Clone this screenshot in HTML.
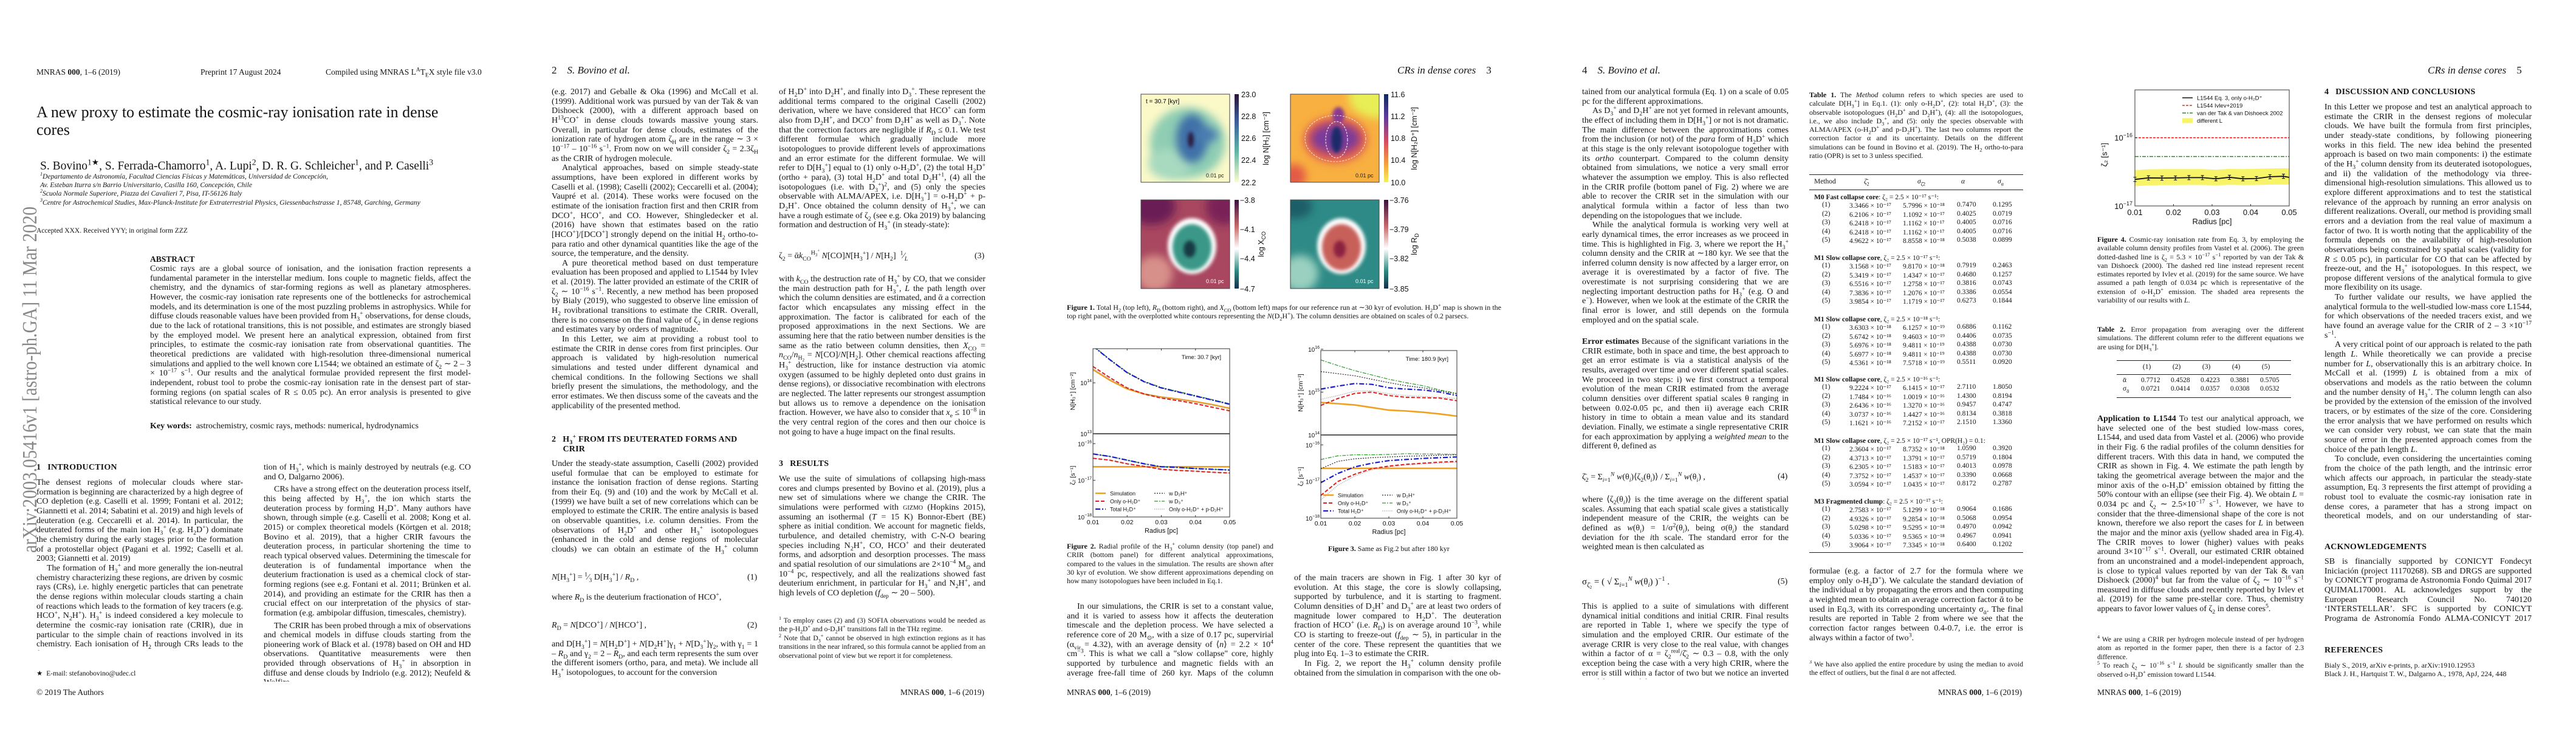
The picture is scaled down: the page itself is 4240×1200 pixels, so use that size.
<!DOCTYPE html>
<html lang="en"><head><meta charset="utf-8"><title>CRs in dense cores</title>
<style>
html,body{margin:0;padding:0;background:#fff;}
body{width:4240px;height:1200px;position:relative;overflow:hidden;font-family:"Liberation Serif",serif;color:#141414;}
.a{position:absolute;}
.t{position:absolute;font-size:14px;line-height:15.65px;text-align:justify;overflow:hidden;hyphens:auto;}
.t p{margin:0;text-indent:17px;}
.t p.ni{text-indent:0;}
.cap{position:absolute;font-size:12px;line-height:14.3px;text-align:justify;overflow:hidden;}
.fn{position:absolute;font-size:11.6px;line-height:14.4px;text-align:justify;overflow:hidden;}
sub,sup{font-size:70%;line-height:0;}
.hd{position:absolute;font-size:13.5px;white-space:nowrap;}
.rh{position:absolute;font-size:17px;font-style:italic;white-space:nowrap;}
.sec{position:absolute;font-size:14px;font-weight:bold;white-space:nowrap;letter-spacing:0.2px;}
.eq{position:absolute;font-size:14px;white-space:nowrap;}
.row{position:absolute;font-size:11.5px;white-space:nowrap;height:14px;}
.row span{position:absolute;top:0;}
</style></head><body>

<!-- ================= PAGE 1 ================= -->
<div class="hd" style="left:60px;top:111px">MNRAS <b>000</b>, 1–6 (2019)</div>
<div class="hd" style="left:330px;top:111px">Preprint 17 August 2024</div>
<div class="hd" style="left:536px;top:111px">Compiled using MNRAS L<sup>A</sup>T<sub>E</sub>X style file v3.0</div>
<div class="a" style="left:60px;top:170px;font-size:26px;line-height:29px;width:720px">A new proxy to estimate the cosmic-ray ionisation rate in dense cores</div>
<div class="a" style="left:66px;top:263px;font-size:19.5px;white-space:nowrap">S. Bovino<sup>1★</sup>, S. Ferrada-Chamorro<sup>1</sup>, A. Lupi<sup>2</sup>, D. R. G. Schleicher<sup>1</sup>, and P. Caselli<sup>3</sup></div>
<div class="a" style="left:66px;top:284px;font-size:11.5px;line-height:14.2px;font-style:italic;white-space:nowrap"><sup>1</sup>Departamento de Astronomía, Facultad Ciencias Físicas y Matemáticas, Universidad de Concepción,<br>Av. Esteban Iturra s/n Barrio Universitario, Casilla 160, Concepción, Chile<br><sup>2</sup>Scuola Normale Superiore, Piazza dei Cavalieri 7, Pisa, IT-56126 Italy<br><sup>3</sup>Centre for Astrochemical Studies, Max-Planck-Institute for Extraterrestrial Physics, Giessenbachstrasse 1, 85748, Garching, Germany</div>
<div class="a" style="left:60px;top:374px;font-size:11.5px">Accepted XXX. Received YYY; in original form ZZZ</div>
<svg class="a" style="left:10px;top:330px" width="60" height="600"><text transform="translate(50,580) rotate(-90)" font-family="Liberation Serif" font-size="34" fill="#888" textLength="570" lengthAdjust="spacingAndGlyphs">arXiv:2003.05416v1  [astro-ph.GA]  11 Mar 2020</text></svg>
<div class="a" style="left:247px;top:419px;font-size:13.5px;font-weight:bold">ABSTRACT</div>
<div class="t" style="left:247px;top:435px;width:528px;height:251px"><p class="ni">Cosmic rays are a global source of ionisation, and the ionisation fraction represents a fundamental parameter in the interstellar medium. Ions couple to magnetic fields, affect the chemistry, and the dynamics of star-forming regions as well as planetary atmospheres. However, the cosmic-ray ionisation rate represents one of the bottlenecks for astrochemical models, and its determination is one of the most puzzling problems in astrophysics. While for diffuse clouds reasonable values have been provided from H<sub>3</sub><sup>+</sup> observations, for dense clouds, due to the lack of rotational transitions, this is not possible, and estimates are strongly biased by the employed model. We present here an analytical expression, obtained from first principles, to estimate the cosmic-ray ionisation rate from observational quantities. The theoretical predictions are validated with high-resolution three-dimensional numerical simulations and applied to the well known core L1544; we obtained an estimate of ζ<sub>2</sub> ∼ 2 – 3 × 10<sup>−17</sup> s<sup>−1</sup>. Our results and the analytical formulae provided represent the first model-independent, robust tool to probe the cosmic-ray ionisation rate in the densest part of star-forming regions (on spatial scales of R ≤ 0.05 pc). An error analysis is presented to give statistical relevance to our study.</p></div>
<div class="a" style="left:247px;top:694px;font-size:14px;white-space:nowrap"><b>Key words:</b>&nbsp; astrochemistry, cosmic rays, methods: numerical, hydrodynamics</div>
<div class="sec" style="left:60px;top:762px">1&nbsp;&nbsp;&nbsp;INTRODUCTION</div>
<div class="t" style="left:60px;top:787px;width:340px;height:284px"><p class="ni">The densest regions of molecular clouds where star-formation is beginning are characterized by a high degree of CO depletion (e.g. Caselli et al. 1999; Fontani et al. 2012; Giannetti et al. 2014; Sabatini et al. 2019) and high levels of deuteration (e.g. Ceccarelli et al. 2014). In particular, the deuterated forms of the main ion H<sub>3</sub><sup>+</sup> (e.g. H<sub>2</sub>D<sup>+</sup>) dominate the chemistry during the early stages prior to the formation of a protostellar object (Pagani et al. 1992; Caselli et al. 2003; Giannetti et al. 2019)</p><p>The formation of H<sub>3</sub><sup>+</sup> and more generally the ion-neutral chemistry characterizing these regions, are driven by cosmic rays (CRs), i.e. highly energetic particles that can penetrate the dense regions within molecular clouds starting a chain of reactions which leads to the formation of key tracers (e.g. HCO<sup>+</sup>, N<sub>2</sub>H<sup>+</sup>). H<sub>3</sub><sup>+</sup> is indeed considered a key molecule to determine the cosmic-ray ionisation rate (CRIR), due in particular to the simple chain of reactions involved in its chemistry. Each ionisation of H<sub>2</sub> through CRs leads to the forma-</p></div>
<div class="fn" style="left:60px;top:1102px;width:340px">★ &nbsp;E-mail: stefanobovino@udec.cl</div>
<div class="hd" style="left:60px;top:1132px">© 2019 The Authors</div>
<div class="t" style="left:434px;top:762px;width:341px;height:360px"><p class="ni">tion of H<sub>3</sub><sup>+</sup>, which is mainly destroyed by neutrals (e.g. CO and O, Dalgarno 2006).</p><p style="margin-top:5px">CRs have a strong effect on the deuteration process itself, this being affected by H<sub>3</sub><sup>+</sup>, the ion which starts the deuteration process by forming H<sub>2</sub>D<sup>+</sup>. Many authors have shown, through simple (e.g. Caselli et al. 2008; Kong et al. 2015) or complex theoretical models (Körtgen et al. 2018; Bovino et al. 2019), that a higher CRIR favours the deuteration process, in particular shortening the time to reach typical observed values. Determining the timescale for deuteration is of fundamental importance when the deuterium fractionation is used as a chemical clock of star-forming regions (see e.g. Fontani et al. 2011; Brünken et al. 2014), and providing an estimate for the CRIR has then a crucial effect on our interpretation of the physics of star-formation (e.g. ambipolar diffusion, timescales, chemistry).</p><p style="margin-top:5px">The CRIR has been probed through a mix of observations and chemical models in diffuse clouds starting from the pioneering work of Black et al. (1978) based on OH and HD observations. Quantitative measurements were then provided through observations of H<sub>3</sub><sup>+</sup> in absorption in diffuse and dense clouds by Indriolo (e.g. 2012); Neufeld &amp; Wolfire</p></div>

<!-- ================= PAGE 2 ================= -->
<div class="rh" style="left:908px;top:106px"><span style="font-style:normal">2</span>&nbsp;&nbsp;&nbsp;&nbsp;S. Bovino et al.</div>
<div class="t" style="left:908px;top:144px;width:340px;height:534px"><p class="ni">(e.g. 2017) and Geballe &amp; Oka (1996) and McCall et al. (1999). Additional work was pursued by van der Tak &amp; van Dishoeck (2000), with a different approach based on H<sup>13</sup>CO<sup>+</sup> in dense clouds towards massive young stars. Overall, in particular for dense clouds, estimates of the ionization rate of hydrogen atom ζ<sub>H</sub> are in the range ∼ 3 × 10<sup>−17</sup> – 10<sup>−16</sup> s<sup>−1</sup>. From now on we will consider ζ<sub>2</sub> = 2.3ζ<sub>H</sub> as the CRIR of hydrogen molecule.</p><p>Analytical approaches, based on simple steady-state assumptions, have been explored in different works by Caselli et al. (1998); Caselli (2002); Ceccarelli et al. (2004); Vaupré et al. (2014). These works were focused on the estimate of the ionisation fraction first and then CRIR from DCO<sup>+</sup>, HCO<sup>+</sup>, and CO. However, Shingledecker et al. (2016) have shown that estimates based on the ratio [HCO<sup>+</sup>]/[DCO<sup>+</sup>] strongly depend on the initial H<sub>2</sub> ortho-to-para ratio and other dynamical quantities like the age of the source, the temperature, and the density.</p><p>A pure theoretical method based on dust temperature evaluation has been proposed and applied to L1544 by Ivlev et al. (2019). The latter provided an estimate of the CRIR of ζ<sub>2</sub> ∼ 10<sup>−16</sup> s<sup>−1</sup>. Recently, a new method has been proposed by Bialy (2019), who suggested to observe line emission of H<sub>2</sub> rovibrational transitions to estimate the CRIR. Overall, there is no consense on the final value of ζ<sub>2</sub> in dense regions and estimates vary by orders of magnitude.</p><p>In this Letter, we aim at providing a robust tool to estimate the CRIR in dense cores from first principles. Our approach is validated by high-resolution numerical simulations and tested under different dynamical and chemical conditions. In the following Sections we shall briefly present the simulations, the methodology, and the error estimates. We then discuss some of the caveats and the applicability of the presented method.</p></div>
<div class="sec" style="left:908px;top:716px;line-height:15.6px;white-space:normal;width:340px">2&nbsp;&nbsp;&nbsp;H<sub>3</sub><sup>+</sup> FROM ITS DEUTERATED FORMS AND<br>&nbsp;&nbsp;&nbsp;&nbsp;&nbsp;CRIR</div>
<div class="t" style="left:908px;top:756px;width:340px;height:158px"><p class="ni">Under the steady-state assumption, Caselli (2002) provided useful formulae that can be employed to estimate for instance the ionisation fraction of dense regions. Starting from their Eq. (9) and (10) and the work by McCall et al. (1999) we have built a set of new correlations which can be employed to estimate the CRIR. The entire analysis is based on observable quantities, i.e. column densities. From the observations of H<sub>2</sub>D<sup>+</sup> and other H<sub>3</sub><sup>+</sup> isotopologues (enhanced in the cold and dense regions of molecular clouds) we can obtain an estimate of the H<sub>3</sub><sup>+</sup> column density:</p></div>
<div class="eq" style="left:908px;top:943px"><i>N</i>[H<sub>3</sub><sup>+</sup>] = <sup>1</sup>⁄<sub>3</sub> D[H<sub>3</sub><sup>+</sup>] / <i>R</i><sub>D</sub> ,</div>
<div class="eq" style="left:1230px;top:943px">(1)</div>
<div class="eq" style="left:908px;top:976px">where <i>R</i><sub>D</sub> is the deuterium fractionation of HCO<sup>+</sup>,</div>
<div class="eq" style="left:908px;top:1022px"><i>R</i><sub>D</sub> = <i>N</i>[DCO<sup>+</sup>] / <i>N</i>[HCO<sup>+</sup>] ,</div>
<div class="eq" style="left:1230px;top:1022px">(2)</div>
<div class="t" style="left:908px;top:1053px;width:340px;height:64px"><p class="ni">and D[H<sub>3</sub><sup>+</sup>] = <i>N</i>[H<sub>2</sub>D<sup>+</sup>] + <i>N</i>[D<sub>2</sub>H<sup>+</sup>]γ<sub>1</sub> + <i>N</i>[D<sub>3</sub><sup>+</sup>]γ<sub>2</sub>, with γ<sub>1</sub> = 1 – <i>R</i><sub>D</sub> and γ<sub>2</sub> = 2 – <i>R</i><sub>D</sub>, and each term represents the sum over the different isomers (ortho, para, and meta). We include all H<sub>3</sub><sup>+</sup> isotopologues, to account for the conversion</p></div>
<div class="t" style="left:1282px;top:144px;width:340px;height:237px"><p class="ni">of H<sub>2</sub>D<sup>+</sup> into D<sub>2</sub>H<sup>+</sup>, and finally into D<sub>3</sub><sup>+</sup>. These represent the additional terms compared to the original Caselli (2002) derivation, where we have considered that HCO<sup>+</sup> can form also from D<sub>2</sub>H<sup>+</sup>, and DCO<sup>+</sup> from D<sub>2</sub>H<sup>+</sup> as well as D<sub>3</sub><sup>+</sup>. Note that the correction factors are negligible if <i>R</i><sub>D</sub> ≤ 0.1. We test different formulae which gradually include more isotopologues to provide different levels of approximations and an error estimate for the different formulae. We will refer to D[H<sub>3</sub><sup>+</sup>] equal to (1) only o-H<sub>2</sub>D<sup>+</sup>, (2) the total H<sub>2</sub>D<sup>+</sup> (ortho + para), (3) total H<sub>2</sub>D<sup>+</sup> and total D<sub>2</sub>H<sup>+1</sup>, (4) all the isotopologues (i.e. with D<sub>3</sub><sup>+</sup>)<sup>2</sup>, and (5) only the species observable with ALMA/APEX, i.e. D[H<sub>3</sub><sup>+</sup>] = o-H<sub>2</sub>D<sup>+</sup> + p-D<sub>2</sub>H<sup>+</sup>. Once obtained the column density of H<sub>3</sub><sup>+</sup>, we can have a rough estimate of ζ<sub>2</sub> (see e.g. Oka 2019) by balancing formation and destruction of H<sub>3</sub><sup>+</sup> (in steady-state):</p></div>
<div class="eq" style="left:1282px;top:414px">ζ<sub>2</sub> = ᾱ<i>k</i><sub>CO</sub><sup>H<sub>3</sub><sup>+</sup></sup> <i>N</i>[CO]<i>N</i>[H<sub>3</sub><sup>+</sup>] / <i>N</i>[H<sub>2</sub>] &nbsp;<sup>1</sup>⁄<sub><i>L</i></sub></div>
<div class="eq" style="left:1604px;top:414px">(3)</div>
<div class="t" style="left:1282px;top:452px;width:340px;height:268px"><p class="ni">with <i>k</i><sub>CO</sub> the destruction rate of H<sub>3</sub><sup>+</sup> by CO, that we consider the main destruction path for H<sub>3</sub><sup>+</sup>, <i>L</i> the path length over which the column densities are estimated, and ᾱ a correction factor which encapsulates any missing effect in the approximation. The factor is calibrated for each of the proposed approximations in the next Sections. We are assuming here that the ratio between number densities is the same as the ratio between column densities, then <i>X</i><sub>CO</sub> = <i>n</i><sub>CO</sub>/<i>n</i><sub>H<sub>2</sub></sub> = <i>N</i>[CO]/<i>N</i>[H<sub>2</sub>]. Other chemical reactions affecting H<sub>3</sub><sup>+</sup> destruction, like for instance destruction via atomic oxygen (assumed to be highly depleted onto dust grains in dense regions), or dissociative recombination with electrons are neglected. The latter represents our strongest assumption but allows us to remove a dependence on the ionisation fraction. However, we have also to consider that <i>x</i><sub>e</sub> ≤ 10<sup>−8</sup> in the very central region of the cores and then our choice is not going to have a huge impact on the final results.</p></div>
<div class="sec" style="left:1282px;top:756px">3&nbsp;&nbsp;&nbsp;RESULTS</div>
<div class="t" style="left:1282px;top:781px;width:340px;height:205px"><p class="ni">We use the suite of simulations of collapsing high-mass cores and clumps presented by Bovino et al. (2019), plus a new set of simulations where we change the CRIR. The simulations were performed with <span style="font-variant:small-caps">gizmo</span> (Hopkins 2015), assuming an isothermal (<i>T</i> = 15 K) Bonnor-Ebert (BE) sphere as initial condition. We account for magnetic fields, turbulence, and detailed chemistry, with C-N-O bearing species including N<sub>2</sub>H<sup>+</sup>, CO, HCO<sup>+</sup> and their deuterated forms, and adsorption and desorption processes. The mass and spatial resolution of our simulations are 2×10<sup>−4</sup> M<sub>⊙</sub> and 10<sup>−4</sup> pc, respectively, and all the realizations showed fast deuterium enrichment, in particular for H<sub>3</sub><sup>+</sup> and N<sub>2</sub>H<sup>+</sup>, and high levels of CO depletion (<i>f</i><sub>dep</sub> ∼ 20 – 500).</p></div>
<div class="fn" style="left:1282px;top:1015px;width:340px;height:104px"><sup>1</sup> To employ cases (2) and (3) SOFIA observations would be needed as the p-H<sub>2</sub>D<sup>+</sup> and o-D<sub>2</sub>H<sup>+</sup> transitions fall in the THz regime.<br><sup>2</sup> Note that D<sub>3</sub><sup>+</sup> cannot be observed in high extinction regions as it has transitions in the near infrared, so this formula cannot be applied from an observational point of view but we report it for completeness.</div>
<div class="hd" style="left:1482px;top:1132px">MNRAS <b>000</b>, 1–6 (2019)</div>

<!-- ================= PAGE 3 ================= -->
<div class="rh" style="left:2300px;top:106px">CRs in dense cores&nbsp;&nbsp;&nbsp;&nbsp;<span style="font-style:normal">3</span></div>
<div class="cap" style="left:1756px;top:499px;width:715px"><b>Figure 1.</b> Total H<sub>2</sub> (top left), <i>R</i><sub>D</sub> (bottom right), and <i>X</i><sub>CO</sub> (bottom left) maps for our reference run at ∼30 kyr of evolution. H<sub>2</sub>D<sup>+</sup> map is shown in the top right panel, with the overplotted white contours representing the <i>N</i>(D<sub>2</sub>H<sup>+</sup>). The column densities are obtained on scales of 0.2 parsecs.</div>
<div class="cap" style="left:1756px;top:892px;width:340px"><b>Figure 2.</b> Radial profile of the H<sub>3</sub><sup>+</sup> column density (top panel) and CRIR (bottom panel) for different analytical approximations, compared to the values in the simulation. The results are shown after 30 kyr of evolution. We show different approximations depending on how many isotopologues have been included in Eq.1.</div>
<div class="cap" style="left:2186px;top:896px;width:200px;text-align:center;white-space:nowrap"><b>Figure 3.</b> Same as Fig.2 but after 180 kyr.</div>
<div class="t" style="left:1756px;top:991px;width:340px;height:127px"><p>In our simulations, the CRIR is set to a constant value, and it is varied to assess how it affects the deuteration timescale and the depletion process. We have selected a reference core of 20 M<sub>⊙</sub>, with a size of 0.17 pc, supervirial (α<sub>vir</sub> = 4.32), with an average density of ⟨<i>n</i>⟩ = 2.2 × 10<sup>4</sup> cm<sup>−3</sup>. This is what we call a "slow collapse" core, highly supported by turbulence and magnetic fields with an average free-fall time of 260 kyr. Maps of the column densities</p></div>
<div class="t" style="left:2130px;top:944px;width:341px;height:174px"><p class="ni">of the main tracers are shown in Fig. 1 after 30 kyr of evolution. At this stage, the core is slowly collapsing, supported by turbulence, and it is starting to fragment. Column densities of D<sub>2</sub>H<sup>+</sup> and D<sub>3</sub><sup>+</sup> are at least two orders of magnitude lower compared to H<sub>2</sub>D<sup>+</sup>. The deuteration fraction of HCO<sup>+</sup> (i.e. <i>R</i><sub>D</sub>) is on average around 10<sup>−3</sup>, while CO is starting to freeze-out (<i>f</i><sub>dep</sub> ∼ 5), in particular in the center of the core. These represent the quantities that we plug into Eq. 1–3 to estimate the CRIR.</p><p>In Fig. 2, we report the H<sub>3</sub><sup>+</sup> column density profile obtained from the simulation in comparison with the one ob-</p></div>
<div class="hd" style="left:1756px;top:1132px">MNRAS <b>000</b>, 1–6 (2019)</div>

<!-- ================= PAGE 4 ================= -->
<div class="rh" style="left:2604px;top:106px"><span style="font-style:normal">4</span>&nbsp;&nbsp;&nbsp;&nbsp;S. Bovino et al.</div>
<div class="t" style="left:2604px;top:144px;width:340px;height:394px"><p class="ni">tained from our analytical formula (Eq. 1) on a scale of 0.05 pc for the different approximations.</p><p>As D<sub>3</sub><sup>+</sup> and D<sub>2</sub>H<sup>+</sup> are not yet formed in relevant amounts, the effect of including them in D[H<sub>3</sub><sup>+</sup>] or not is not dramatic. The main difference between the approximations comes from the inclusion (or not) of the <i>para</i> form of H<sub>2</sub>D<sup>+</sup> which at this stage is the only relevant isotopologue together with its <i>ortho</i> counterpart. Compared to the column density obtained from simulations, we notice a very small error whatever the assumption we employ. This is also reflected in the CRIR profile (bottom panel of Fig. 2) where we are able to recover the CRIR set in the simulation with our analytical formula within a factor of less than two depending on the istopologues that we include.</p><p>While the analytical formula is working very well at early dynamical times, the error increases as we proceed in time. This is highlighted in Fig. 3, where we report the H<sub>3</sub><sup>+</sup> column density and the CRIR at ∼180 kyr. We see that the inferred column density is now affected by a larger error, on average it is overestimated by a factor of five. The overestimate is not surprising considering that we are neglecting important destruction paths for H<sub>3</sub><sup>+</sup> (e.g. O and e<sup>−</sup>). However, when we look at the estimate of the CRIR the final error is lower, and still depends on the formula employed and on the spatial scale.</p></div>
<div class="t" style="left:2604px;top:555px;width:340px;height:190px"><p class="ni"><b>Error estimates</b> Because of the significant variations in the CRIR estimate, both in space and time, the best approach to get an error estimate is via a statistical analysis of the results, averaged over time and over different spatial scales. We proceed in two steps: i) we first construct a temporal evolution of the mean CRIR estimated from the average column densities over different spatial scales θ ranging in between 0.02-0.05 pc, and then ii) average each CRIR history in time to obtain a mean value and its standard deviation. Finally, we estimate a single representative CRIR for each approximation by applying a <i>weighted mean</i> to the different θ, defined as</p></div>
<div class="eq" style="left:2604px;top:777px">ζ̄<sub>2</sub> = Σ<sub><i>i</i>=1</sub><sup><i>N</i></sup> <i>w</i>(θ<sub><i>i</i></sub>)⟨ζ<sub>2</sub>(θ<sub><i>i</i></sub>)⟩ / Σ<sub><i>i</i>=1</sub><sup><i>N</i></sup> <i>w</i>(θ<sub><i>i</i></sub>) ,</div>
<div class="eq" style="left:2926px;top:777px">(4)</div>
<div class="t" style="left:2604px;top:815px;width:340px;height:96px"><p class="ni">where ⟨ζ<sub>2</sub>(θ<sub><i>i</i></sub>)⟩ is the time average on the different spatial scales. Assuming that each spatial scale gives a statistically independent measure of the CRIR, the weights can be defined as <i>w</i>(θ<sub><i>i</i></sub>) = 1/σ<sup>2</sup>(θ<sub><i>i</i></sub>), being σ(θ<sub><i>i</i></sub>) the standard deviation for the <i>i</i>th scale. The standard error for the weighted mean is then calculated as</p></div>
<div class="eq" style="left:2604px;top:950px;font-size:15px">σ<sub>ζ̄<sub>2</sub></sub> = ( √ Σ<sub><i>i</i>=1</sub><sup><i>N</i></sup> <i>w</i>(θ<sub><i>i</i></sub>) )<sup>−1</sup> .</div>
<div class="eq" style="left:2926px;top:950px">(5)</div>
<div class="t" style="left:2604px;top:991px;width:340px;height:127px"><p class="ni">This is applied to a suite of simulations with different dynamical initial conditions and initial CRIR. Final results are reported in Table 1, where we specify the type of simulation and the employed CRIR. Our estimate of the average CRIR is very close to the real value, with changes within a factor of α = ζ<sub>2</sub><sup>real</sup>/ζ̄<sub>2</sub> ∼ 0.3 – 0.8, with the only exception being the case with a very high CRIR, where the error is still within a factor of two but we notice an inverted trend for some of the</p></div>
<div class="cap" style="left:2978px;top:149px;width:352px"><b>Table 1.</b> The <i>Method</i> column refers to which species are used to calculate D[H<sub>3</sub><sup>+</sup>] in Eq.1. (1): only o-H<sub>2</sub>D<sup>+</sup>, (2): total H<sub>2</sub>D<sup>+</sup>, (3): the observable isotopologues (H<sub>2</sub>D<sup>+</sup> and D<sub>2</sub>H<sup>+</sup>), (4): all the isotopologues, i.e., we also include D<sub>3</sub><sup>+</sup>, and (5): only the species observable with ALMA/APEX (o-H<sub>2</sub>D<sup>+</sup> and p-D<sub>2</sub>H<sup>+</sup>). The last two columns report the correction factor α and its uncertainty. Details on the different simulations can be found in Bovino et al. (2019). The H<sub>2</sub> ortho-to-para ratio (OPR) is set to 3 unless specified.</div>
<div class="a" style="left:2978px;top:287px;width:352px;height:1px;background:#222"></div>
<div class="row" style="left:2978px;top:293px;width:352px"><span style="left:8px">Method</span><span style="left:90px"><i>ζ̄</i><sub>2</sub></span><span style="left:178px"><i>σ</i><sub>ζ̄2</sub></span><span style="left:250px"><i>α</i></span><span style="left:310px"><i>σ</i><sub>α</sub></span></div>
<div class="a" style="left:2978px;top:312px;width:352px;height:1px;background:#222"></div>
<div id="table1"></div>
<div class="a" style="left:2978px;top:909px;width:352px;height:1px;background:#222"></div>
<div class="t" style="left:2978px;top:933px;width:352px;height:127px"><p class="ni">formulae (e.g. a factor of 2.7 for the formula where we employ only o-H<sub>2</sub>D<sup>+</sup>). We calculate the standard deviation of the individual α by propagating the errors and then computing a weighted mean to obtain an average correction factor ᾱ to be used in Eq.3, with its corresponding uncertainty σ<sub>ᾱ</sub>. The final results are reported in Table 2 from where we see that the correction factor ranges between 0.4-0.7, i.e. the error is always within a factor of two<sup>3</sup>.</p></div>
<div class="fn" style="left:2978px;top:1087px;width:352px"><sup>3</sup> We have also applied the entire procedure by using the median to avoid the effect of outliers, but the final ᾱ are not affected.</div>
<div class="hd" style="left:3190px;top:1132px">MNRAS <b>000</b>, 1–6 (2019)</div>

<!-- ================= PAGE 5 ================= -->
<div class="rh" style="left:3996px;top:106px">CRs in dense cores&nbsp;&nbsp;&nbsp;&nbsp;<span style="font-style:normal">5</span></div>
<div class="cap" style="left:3452px;top:387px;width:340px"><b>Figure 4.</b> Cosmic-ray ionisation rate from Eq. 3, by employing the available column density profiles from Vastel et al. (2006). The green dotted-dashed line is ζ<sub>2</sub> = 5.3 × 10<sup>−17</sup> s<sup>−1</sup> reported by van der Tak &amp; van Dishoeck (2000). The dashed red line instead represent recent estimates reported by Ivlev et al. (2019) for the same source. We have assumed a path length of 0.034 pc which is representative of the extension of o-H<sub>2</sub>D<sup>+</sup> emission. The shaded area represents the variability of our results with <i>L</i>.</div>
<div class="cap" style="left:3452px;top:535px;width:340px"><b>Table 2.</b> Error propagation from averaging over the different simulations. The different column refer to the different equations we are using for D[H<sub>3</sub><sup>+</sup>].</div>
<div class="a" style="left:3484px;top:593px;width:287px;height:1px;background:#222"></div>
<div id="table2"></div>
<div class="a" style="left:3484px;top:616px;width:287px;height:1px;background:#222"></div>
<div class="a" style="left:3484px;top:654px;width:287px;height:1px;background:#222"></div>
<div class="t" style="left:3452px;top:682px;width:340px;height:331px"><p class="ni"><b>Application to L1544</b> To test our analytical approach, we have selected one of the best studied low-mass cores, L1544, and used data from Vastel et al. (2006) who provide in their Fig. 6 the radial profiles of the column densities for different tracers. With this data in hand, we computed the CRIR as shown in Fig. 4. We estimate the path length by taking the geometrical average between the major and the minor axis of the o-H<sub>2</sub>D<sup>+</sup> emission obtained by fitting the 50% contour with an ellipse (see their Fig. 4). We obtain <i>L</i> = 0.034 pc and ζ<sub>2</sub> ∼ 2.5×10<sup>−17</sup> s<sup>−1</sup>. However, we have to consider that the three-dimensional shape of the core is not known, therefore we also report the cases for <i>L</i> in between the major and the minor axis (yellow shaded area in Fig.4). The CRIR moves to lower (higher) values with peaks around 3×10<sup>−17</sup> s<sup>−1</sup>. Overall, our estimated CRIR obtained from an unconstrained and a model-independent approach, is close to typical values reported by van der Tak &amp; van Dishoeck (2000)<sup>4</sup> but far from the value of ζ<sub>2</sub> ∼ 10<sup>−16</sup> s<sup>−1</sup> measured in diffuse clouds and recently reported by Ivlev et al. (2019) for the same pre-stellar core. Thus, chemistry appears to favor lower values of ζ<sub>2</sub> in dense cores<sup>5</sup>.</p></div>
<div class="fn" style="left:3452px;top:1046px;width:340px;height:72px"><sup>4</sup> We are using a CRIR per hydrogen molecule instead of per hydrogen atom as reported in the former paper, then there is a factor of 2.3 difference.<br><sup>5</sup> To reach ζ<sub>2</sub> ∼ 10<sup>−16</sup> s<sup>−1</sup> <i>L</i> should be significantly smaller than the observed o-H<sub>2</sub>D<sup>+</sup> emission toward L1544.</div>
<div class="hd" style="left:3452px;top:1132px">MNRAS <b>000</b>, 1–6 (2019)</div>
<div class="sec" style="left:3826px;top:144px">4&nbsp;&nbsp;&nbsp;DISCUSSION AND CONCLUSIONS</div>
<div class="t" style="left:3826px;top:169px;width:341px;height:690px"><p class="ni">In this Letter we propose and test an analytical approach to estimate the CRIR in the densest regions of molecular clouds. We have built the formula from first principles, under steady-state conditions, by following pioneering works in this field. The new idea behind the presented approach is based on two main components: i) the estimate of the H<sub>3</sub><sup>+</sup> column density from its deuterated isotopologues, and ii) the validation of the methodology via three-dimensional high-resolution simulations. This allowed us to explore different approximations and to test the statistical relevance of the approach by running an error analysis on different realizations. Overall, our method is providing small errors and a deviation from the real value of maximum a factor of two. It is worth noting that the applicability of the formula depends on the availability of high-resolution observations being constrained by spatial scales (validity for <i>R</i> ≤ 0.05 pc), in particular for CO that can be affected by freeze-out, and the H<sub>3</sub><sup>+</sup> isotopologues. In this respect, we propose different versions of the analytical formula to give more flexibility on its usage.</p><p>To further validate our results, we have applied the analytical formula to the well-studied low-mass core L1544, for which observations of the needed tracers exist, and we have found an average value for the CRIR of 2 – 3 ×10<sup>−17</sup> s<sup>−1</sup>.</p><p>A very critical point of our approach is related to the path length <i>L</i>. While theoretically we can provide a precise number for <i>L</i>, observationally this is an arbitrary choice. In McCall et al. (1999) <i>L</i> is obtained from a mix of observations and models as the ratio between the column and the number density of H<sub>3</sub><sup>+</sup>. The column length can also be provided by the extension of the emission of the involved tracers, or by estimates of the size of the core. Considering the error analysis that we have performed on results which we can consider very robust, we can state that the main source of error in the presented approach comes from the choice of the path length <i>L</i>.</p><p>To conclude, even considering the uncertainties coming from the choice of the path length, and the intrinsic error which affects our approach, in particular the steady-state assumption, Eq. 3 represents the first attempt of providing a robust tool to evaluate the cosmic-ray ionisation rate in dense cores, a parameter that has a strong impact on theoretical models, and on our understanding of star-forming regions.</p></div>
<div class="sec" style="left:3826px;top:893px">ACKNOWLEDGEMENTS</div>
<div class="t" style="left:3826px;top:917px;width:341px;height:112px"><p class="ni">SB is financially supported by CONICYT Fondecyt Iniciación (project 11170268). SB and DRGS are supported by CONICYT programa de Astronomia Fondo Quimal 2017 QUIMAL170001. AL acknowledges support by the European Research Council No. 740120 ‘INTERSTELLAR’. SFC is supported by CONICYT Programa de Astronomía Fondo ALMA-CONICYT 2017 Project #31170002.</p></div>
<div class="sec" style="left:3826px;top:1063px">REFERENCES</div>
<div class="fn" style="left:3826px;top:1088px;width:341px;font-size:12px;white-space:nowrap">Bialy S., 2019, arXiv e-prints, p. arXiv:1910.12953<br>Black J. H., Hartquist T. W., Dalgarno A., 1978, ApJ, 224, 448</div>

<!-- ================= FIGURES (SVG) ================= -->
<svg id="figs" class="a" style="left:0;top:0" width="4240" height="1200" font-family="Liberation Sans, sans-serif">
<defs>
<filter id="bl" x="-50%" y="-50%" width="200%" height="200%"><feGaussianBlur stdDeviation="7"/></filter>
<filter id="bl2" x="-50%" y="-50%" width="200%" height="200%"><feGaussianBlur stdDeviation="3"/></filter>
<clipPath id="c1"><rect x="1878" y="155" width="146" height="145"/></clipPath>
<clipPath id="c2"><rect x="2124" y="155" width="146" height="145"/></clipPath>
<clipPath id="c3"><rect x="1878" y="329" width="146" height="146"/></clipPath>
<clipPath id="c4"><rect x="2124" y="329" width="146" height="146"/></clipPath>
<linearGradient id="g1" x1="0" y1="0" x2="0" y2="1"><stop offset="0" stop-color="#2a1535"/><stop offset="0.3" stop-color="#3b5a9a"/><stop offset="0.65" stop-color="#5fb5a5"/><stop offset="1" stop-color="#fdfbd0"/></linearGradient>
<linearGradient id="g2" x1="0" y1="0" x2="0" y2="1"><stop offset="0" stop-color="#0c2a5a"/><stop offset="0.25" stop-color="#5a3aa0"/><stop offset="0.55" stop-color="#d94e5f"/><stop offset="0.8" stop-color="#f6a33a"/><stop offset="1" stop-color="#f4f25a"/></linearGradient>
<linearGradient id="g3" x1="0" y1="0" x2="0" y2="1"><stop offset="0" stop-color="#3a1040"/><stop offset="0.3" stop-color="#c86a6a"/><stop offset="0.55" stop-color="#ffffff"/><stop offset="0.8" stop-color="#2f8a80"/><stop offset="1" stop-color="#12304a"/></linearGradient>
</defs>
<g clip-path="url(#c1)">
<rect x="1878" y="155" width="146" height="145" fill="#fbf9c8"/>
<ellipse cx="1955" cy="235" rx="62" ry="58" fill="#8fcdb4" filter="url(#bl)"/>
<ellipse cx="1925" cy="270" rx="35" ry="25" fill="#a8dac0" filter="url(#bl)"/>
<ellipse cx="1962" cy="228" rx="26" ry="40" fill="#3f6fa8" filter="url(#bl)"/>
<ellipse cx="1985" cy="222" rx="20" ry="12" fill="#4a7cb0" filter="url(#bl)"/>
<ellipse cx="1960" cy="230" rx="5" ry="13" fill="#2a1f40" filter="url(#bl2)"/>
</g>
<rect x="1878" y="155" width="146" height="145" fill="none" stroke="#444" stroke-width="1"/>
<text x="1886" y="170" font-size="10">t = 30.7 [kyr]</text>
<g clip-path="url(#c2)">
<rect x="2124" y="155" width="146" height="145" fill="#f8b040"/>
<ellipse cx="2270" cy="160" rx="50" ry="35" fill="#e8ee55" filter="url(#bl)"/>
<ellipse cx="2130" cy="290" rx="20" ry="20" fill="#e35a45" filter="url(#bl)"/>
<ellipse cx="2198" cy="230" rx="52" ry="38" fill="#df5a52" filter="url(#bl)"/>
<ellipse cx="2198" cy="228" rx="40" ry="24" fill="#7a3a9a" filter="url(#bl)"/>
<ellipse cx="2203" cy="190" rx="10" ry="14" fill="#8a3a90" filter="url(#bl2)"/>
<ellipse cx="2200" cy="230" rx="9" ry="22" fill="#1f2a6a" filter="url(#bl2)"/>
<ellipse cx="2200" cy="230" rx="18" ry="30" fill="none" stroke="#fff" stroke-width="1" stroke-dasharray="3,2"/>
<ellipse cx="2198" cy="228" rx="50" ry="38" fill="none" stroke="#fff" stroke-width="0.8" stroke-dasharray="3,2"/>
</g>
<rect x="2124" y="155" width="146" height="145" fill="none" stroke="#444" stroke-width="1"/>
<g clip-path="url(#c3)">
<rect x="1878" y="329" width="146" height="146" fill="#a8475f"/>
<ellipse cx="1895" cy="340" rx="40" ry="30" fill="#6a1d55" filter="url(#bl)"/>
<ellipse cx="2015" cy="340" rx="30" ry="30" fill="#7a2458" filter="url(#bl)"/>
<ellipse cx="1900" cy="450" rx="30" ry="30" fill="#d8908a" filter="url(#bl)"/>
<ellipse cx="1962" cy="405" rx="40" ry="46" fill="#ffffff" filter="url(#bl2)"/>
<ellipse cx="1962" cy="407" rx="32" ry="38" fill="#3a9888" filter="url(#bl2)"/>
<ellipse cx="1958" cy="410" rx="10" ry="14" fill="#153a45" filter="url(#bl2)"/>
</g>
<rect x="1878" y="329" width="146" height="146" fill="none" stroke="#444" stroke-width="1"/>
<g clip-path="url(#c4)">
<rect x="2124" y="329" width="146" height="146" fill="#2e8a86"/>
<ellipse cx="2140" cy="450" rx="30" ry="30" fill="#9ad0c0" filter="url(#bl)"/>
<ellipse cx="2130" cy="340" rx="30" ry="20" fill="#1c5d68" filter="url(#bl)"/>
<ellipse cx="2208" cy="405" rx="40" ry="46" fill="#ffffff" filter="url(#bl2)"/>
<ellipse cx="2208" cy="407" rx="32" ry="38" fill="#c8605a" filter="url(#bl2)"/>
<ellipse cx="2205" cy="410" rx="10" ry="14" fill="#8a2040" filter="url(#bl2)"/>
</g>
<rect x="2124" y="329" width="146" height="146" fill="none" stroke="#444" stroke-width="1"/>
<g font-size="9" fill="#222"><text x="1985" y="292">0.01 pc</text><text x="2231" y="292">0.01 pc</text></g>
<g font-size="9" fill="#fff"><text x="1985" y="466">0.01 pc</text><text x="2231" y="466">0.01 pc</text></g>
<rect x="2032" y="155" width="7" height="145" fill="url(#g1)"/>
<rect x="2278" y="155" width="7" height="145" fill="url(#g2)"/>
<rect x="2032" y="329" width="7" height="146" fill="url(#g3)"/>
<rect x="2278" y="329" width="7" height="146" fill="url(#g3)"/>
<g font-size="12.5" fill="#111">
<text x="2043" y="160">23.0</text><text x="2043" y="196">22.8</text><text x="2043" y="232">22.6</text><text x="2043" y="268">22.4</text><text x="2043" y="305">22.2</text>
<text x="2289" y="160">11.6</text><text x="2289" y="196">11.2</text><text x="2289" y="232">10.8</text><text x="2289" y="268">10.4</text><text x="2289" y="305">10.0</text>
<text x="2041" y="334">−3.8</text><text x="2041" y="382">−4.1</text><text x="2041" y="430">−4.4</text><text x="2041" y="480">−4.7</text>
<text x="2287" y="334">−3.76</text><text x="2287" y="382">−3.79</text><text x="2287" y="430">−3.82</text><text x="2287" y="480">−3.85</text>
<text transform="translate(2088,228) rotate(-90)" text-anchor="middle">log N[H₂] [cm⁻²]</text>
<text transform="translate(2332,228) rotate(-90)" text-anchor="middle">log N[H₂D⁺] [cm⁻²]</text>
<text transform="translate(2080,402) rotate(-90)" text-anchor="middle">log X<tspan font-size="9" dy="3">CO</tspan></text>
<text transform="translate(2332,402) rotate(-90)" text-anchor="middle">log R<tspan font-size="9" dy="3">D</tspan></text>
</g>
<g id="chartLayer"></g>
</svg>

<script>
// ---------- Chart data ----------
const radius = [0.01, 0.015, 0.02, 0.025, 0.03, 0.035, 0.04, 0.045, 0.05];
const xTicks = [0.01, 0.02, 0.03, 0.04, 0.05];
const xTickLabels = ["0.01", "0.02", "0.03", "0.04", "0.05"];
const f2TopSim   = [14.26, 14.05, 13.88, 13.78, 13.72, 13.68, 13.63, 13.57, 13.50];
const f2TopOnlyO = [14.32, 14.10, 13.90, 13.78, 13.70, 13.65, 13.59, 13.52, 13.45];
const f2TopTotal = [14.72, 14.45, 14.20, 14.02, 13.90, 13.82, 13.74, 13.66, 13.58];
const f2TopWD2H  = [14.72, 14.45, 14.20, 14.02, 13.90, 13.82, 13.74, 13.66, 13.58];
const f2TopWD3   = [14.73, 14.46, 14.21, 14.03, 13.91, 13.83, 13.75, 13.67, 13.59];
const f2TopObs   = [14.28, 14.07, 13.89, 13.79, 13.72, 13.67, 13.62, 13.56, 13.49];
const f2BotSim   = [-16.63, -16.63, -16.63, -16.63, -16.63, -16.63, -16.63, -16.63, -16.63];
const f2BotOnlyO = [-16.40, -16.45, -16.55, -16.62, -16.70, -16.73, -16.75, -16.78, -16.80];
const f2BotTotal = [-16.28, -16.35, -16.45, -16.55, -16.63, -16.65, -16.68, -16.70, -16.72];
const f2BotWD2H  = [-16.28, -16.35, -16.45, -16.55, -16.63, -16.65, -16.68, -16.70, -16.72];
const f2BotWD3   = [-16.28, -16.35, -16.45, -16.55, -16.63, -16.65, -16.68, -16.70, -16.72];
const f2BotObs   = [-16.40, -16.45, -16.55, -16.62, -16.70, -16.73, -16.75, -16.78, -16.80];
const f3TopSim   = [14.76, 14.73, 14.70, 14.64, 14.58, 14.56, 14.53, 14.49, 14.44];
const f3TopOnlyO = [14.69, 14.85, 14.97, 15.00, 14.92, 14.88, 14.87, 14.86, 14.80];
const f3TopTotal = [15.07, 15.14, 15.20, 15.18, 15.10, 15.07, 15.05, 15.00, 14.92];
const f3TopWD2H  = [15.48, 15.43, 15.38, 15.30, 15.22, 15.15, 15.10, 15.03, 14.96];
const f3TopWD3   = [15.75, 15.62, 15.50, 15.40, 15.30, 15.22, 15.15, 15.05, 14.97];
const f3TopObs   = [14.83, 14.92, 15.02, 15.03, 14.96, 14.92, 14.90, 14.88, 14.85];
const f3BotSim   = [-16.64, -16.64, -16.64, -16.64, -16.64, -16.64, -16.64, -16.64, -16.64];
const f3BotOnlyO = [-17.38, -17.00, -16.80, -16.65, -16.58, -16.53, -16.50, -16.47, -16.45];
const f3BotTotal = [-17.03, -16.78, -16.60, -16.50, -16.43, -16.40, -16.37, -16.35, -16.33];
const f3BotWD2H  = [-16.65, -16.45, -16.38, -16.35, -16.33, -16.31, -16.30, -16.28, -16.27];
const f3BotWD3   = [-16.40, -16.30, -16.27, -16.27, -16.26, -16.24, -16.25, -16.25, -16.26];
const f3BotObs   = [-17.50, -17.10, -16.85, -16.68, -16.60, -16.55, -16.52, -16.50, -16.47];
const f4Radius = [0.01, 0.0135, 0.017, 0.0205, 0.024, 0.0275, 0.031, 0.0345, 0.038, 0.0415, 0.045, 0.0485, 0.05];
const f4Zeta   = [2.45, 2.58, 2.56, 2.57, 2.60, 2.60, 2.50, 2.63, 2.50, 2.52, 2.68, 2.72, 2.62];
const f4ErrLow = [2.28, 2.40, 2.38, 2.40, 2.42, 2.42, 2.33, 2.45, 2.33, 2.35, 2.50, 2.53, 2.44];
const f4ErrHigh= [2.63, 2.77, 2.75, 2.75, 2.79, 2.79, 2.68, 2.82, 2.68, 2.70, 2.87, 2.92, 2.81];
const f4BandLow  = [1.95, 2.0, 2.02, 2.02, 2.03, 2.03, 2.0, 2.04, 2.02, 2.03, 2.05, 2.06, 2.05];
const f4BandHigh = [3.35, 3.45, 3.47, 3.47, 3.48, 3.48, 3.40, 3.50, 3.48, 3.50, 3.55, 3.57, 3.55];
const f4Ivlev = 10.0;
const f4VdTak = 5.3;
const t1Groups = ["M0 Fast collapse core: ζ₂ = 2.5 × 10⁻¹⁷ s⁻¹:", "M1 Slow collapse core, ζ₂ = 2.5 × 10⁻¹⁷ s⁻¹:", "M1 Slow collapse core, ζ₂ = 2.5 × 10⁻¹⁸ s⁻¹:", "M1 Slow collapse core, ζ₂ = 2.5 × 10⁻¹⁶ s⁻¹:", "M1 Slow collapse core, ζ₂ = 2.5 × 10⁻¹⁷ s⁻¹, OPR(H₂) = 0.1:", "M3 Fragmented clump: ζ₂ = 2.5 × 10⁻¹⁷ s⁻¹:"];
const t1Zeta = [["3.3466 × 10⁻¹⁷","6.2106 × 10⁻¹⁷","6.2418 × 10⁻¹⁷","6.2418 × 10⁻¹⁷","4.9622 × 10⁻¹⁷"],["3.1568 × 10⁻¹⁷","5.3419 × 10⁻¹⁷","6.5516 × 10⁻¹⁷","7.3836 × 10⁻¹⁷","3.9854 × 10⁻¹⁷"],["3.6303 × 10⁻¹⁸","5.6742 × 10⁻¹⁸","5.6976 × 10⁻¹⁸","5.6977 × 10⁻¹⁸","4.5361 × 10⁻¹⁸"],["9.2224 × 10⁻¹⁷","1.7484 × 10⁻¹⁶","2.6436 × 10⁻¹⁶","3.0737 × 10⁻¹⁶","1.1621 × 10⁻¹⁶"],["2.3604 × 10⁻¹⁷","4.3713 × 10⁻¹⁷","6.2305 × 10⁻¹⁷","7.3752 × 10⁻¹⁷","3.0594 × 10⁻¹⁷"],["2.7583 × 10⁻¹⁷","4.9326 × 10⁻¹⁷","5.0298 × 10⁻¹⁷","5.0336 × 10⁻¹⁷","3.9064 × 10⁻¹⁷"]];
const t1Sig = [["5.7996 × 10⁻¹⁸","1.1092 × 10⁻¹⁷","1.1162 × 10⁻¹⁷","1.1162 × 10⁻¹⁷","8.8558 × 10⁻¹⁸"],["9.8170 × 10⁻¹⁸","1.4347 × 10⁻¹⁷","1.2758 × 10⁻¹⁷","1.2076 × 10⁻¹⁷","1.1719 × 10⁻¹⁷"],["6.1257 × 10⁻¹⁹","9.4603 × 10⁻¹⁹","9.4811 × 10⁻¹⁹","9.4811 × 10⁻¹⁹","7.5718 × 10⁻¹⁹"],["6.1415 × 10⁻¹⁷","1.0019 × 10⁻¹⁶","1.3270 × 10⁻¹⁶","1.4427 × 10⁻¹⁶","7.2152 × 10⁻¹⁷"],["8.7352 × 10⁻¹⁸","1.3791 × 10⁻¹⁷","1.5183 × 10⁻¹⁷","1.4537 × 10⁻¹⁷","1.0435 × 10⁻¹⁷"],["5.1299 × 10⁻¹⁸","9.2854 × 10⁻¹⁸","9.5295 × 10⁻¹⁸","9.5365 × 10⁻¹⁸","7.3345 × 10⁻¹⁸"]];
const t1Alpha = [["0.7470","0.4025","0.4005","0.4005","0.5038"],["0.7919","0.4680","0.3816","0.3386","0.6273"],["0.6886","0.4406","0.4388","0.4388","0.5511"],["2.7110","1.4300","0.9457","0.8134","2.1510"],["1.0590","0.5719","0.4013","0.3390","0.8172"],["0.9064","0.5068","0.4970","0.4967","0.6400"]];
const t1SigA = [["0.1295","0.0719","0.0716","0.0716","0.0899"],["0.2463","0.1257","0.0743","0.0554","0.1844"],["0.1162","0.0735","0.0730","0.0730","0.0920"],["1.8050","0.8194","0.4747","0.3818","1.3360"],["0.3920","0.1804","0.0978","0.0668","0.2787"],["0.1686","0.0954","0.0942","0.0941","0.1202"]];
const t1GroupTops = [317, 417, 518, 617, 718, 818];
const t2Cols = ["(1)", "(2)", "(3)", "(4)", "(5)"];
const t2Alpha = ["0.7712", "0.4528", "0.4223", "0.3881", "0.5705"];
const t2Sigma = ["0.0721", "0.0414", "0.0357", "0.0308", "0.0532"];

const NS = "http://www.w3.org/2000/svg";
const layer = document.getElementById("chartLayer");
function mk(tag, attrs, parent) {
  const e = document.createElementNS(NS, tag);
  for (const k in attrs) e.setAttribute(k, attrs[k]);
  (parent || layer).appendChild(e);
  return e;
}
function linScale(d0, d1, r0, r1) { return v => r0 + (v - d0) / (d1 - d0) * (r1 - r0); }

const styles = {
  sim:   {stroke: "#f0a020", w: 2.6, dash: ""},
  onlyO: {stroke: "#e02020", w: 2, dash: "6,3"},
  total: {stroke: "#1a1ad0", w: 2.2, dash: "8,3,2,3"},
  wd2h:  {stroke: "#222", w: 1.2, dash: "2,2"},
  wd3:   {stroke: "#2a9a2a", w: 1.2, dash: "6,2,2,2"},
  obs:   {stroke: "#aaa", w: 1.2, dash: "1.5,1.5"}
};

function drawSeries(xs, ys, sx, sy, st, name) {
  let d = "";
  xs.forEach((x, i) => { d += (i ? "L" : "M") + sx(x).toFixed(1) + "," + sy(ys[i]).toFixed(1); });
  const p = mk("path", {d: d, fill: "none", stroke: st.stroke, "stroke-width": st.w, "stroke-dasharray": st.dash});
  
  
  return p;
}

function logLabel(x, y, exp, anchor) {
  const t = mk("text", {x: x, y: y, "font-size": "10", "text-anchor": anchor || "end", fill: "#111"});
  t.textContent = "10";
  const s = mk("tspan", {dy: "-5", "font-size": "7"}, t);
  s.textContent = exp;
  
  
}

function drawProfileFigure(cfg) {
  const sx = linScale(0.01, 0.05, cfg.x0, cfg.x1);
  const clipId = "clip" + cfg.id;
  const cp = mk("clipPath", {id: clipId});
  mk("rect", {x: cfg.x0, y: cfg.topY0, width: cfg.x1 - cfg.x0, height: cfg.botY1 - cfg.topY0}, cp);
  const syT = linScale(cfg.topMax, cfg.topMin, cfg.topY0, cfg.midY);
  const syB = linScale(cfg.botMax, cfg.botMin, cfg.midY, cfg.botY1);
  const gT = mk("g", {"clip-path": "url(#" + clipId + ")"});
  
  
  const order = ["sim", "obs", "wd2h", "wd3", "onlyO", "total"];
  order.forEach(k => {
    const pT = drawSeries(radius, cfg.top[k], sx, syT, styles[k], cfg.id + "-top-" + k);
    gT.appendChild(pT);
    const pB = drawSeries(radius, cfg.bot[k], sx, syB, styles[k], cfg.id + "-bottom-" + k);
    gT.appendChild(pB);
  });
  const f1 = mk("rect", {x: cfg.x0, y: cfg.topY0, width: cfg.x1 - cfg.x0, height: cfg.midY - cfg.topY0, fill: "none", stroke: "#333", "stroke-width": "1"});
  
  
  const f2 = mk("rect", {x: cfg.x0, y: cfg.midY, width: cfg.x1 - cfg.x0, height: cfg.botY1 - cfg.midY, fill: "none", stroke: "#333", "stroke-width": "1"});
  
  
  mk("line", {x1: cfg.x0, x2: cfg.x1, y1: cfg.midY, y2: cfg.midY, stroke: "#222", "stroke-width": "1.6"});
  xTicks.forEach((v, i) => {
    mk("line", {x1: sx(v), x2: sx(v), y1: cfg.botY1, y2: cfg.botY1 - 3, stroke: "#333"});
    mk("line", {x1: sx(v), x2: sx(v), y1: cfg.topY0, y2: cfg.topY0 + 3, stroke: "#333"});
    const t = mk("text", {x: sx(v), y: cfg.botY1 + 12, "font-size": "10.5", "text-anchor": "middle", fill: "#111"});
    t.textContent = xTickLabels[i];
    
    
  });
  const xl = mk("text", {x: (cfg.x0 + cfg.x1) / 2, y: cfg.botY1 + 26, "font-size": "11", "text-anchor": "middle", fill: "#111"});
  xl.textContent = "Radius [pc]";
  
  
  cfg.topTicks.forEach(e => { const y = syT(e); mk("line", {x1: cfg.x0, x2: cfg.x0 + 4, y1: y, y2: y, stroke: "#333"}); logLabel(cfg.x0 - 2, y + 4, String(e)); });
  cfg.botTicks.forEach(e => { const y = syB(e); mk("line", {x1: cfg.x0, x2: cfg.x0 + 4, y1: y, y2: y, stroke: "#333"}); logLabel(cfg.x0 - 2, y + 4, e < 0 ? "−" + Math.abs(e) : String(e)); });
  const yl1 = mk("text", {transform: "translate(" + (cfg.x0 - 30) + "," + ((cfg.topY0 + cfg.midY) / 2) + ") rotate(-90)", "font-size": "10.5", "text-anchor": "middle", fill: "#111"});
  yl1.textContent = "N[H₃⁺] [cm⁻²]";
  
  
  const yl2 = mk("text", {transform: "translate(" + (cfg.x0 - 30) + "," + ((cfg.midY + cfg.botY1) / 2) + ") rotate(-90)", "font-size": "10.5", "text-anchor": "middle", fill: "#111"});
  yl2.textContent = "ζ₂ [s⁻¹]";
  
  
  const tl = mk("text", {x: cfg.x1 - 14, y: cfg.topY0 + 17, "font-size": "9.5", "text-anchor": "end", fill: "#111"});
  tl.textContent = cfg.time;
  
  
  const lg = [["sim", "Simulation"], ["onlyO", "Only o-H₂D⁺"], ["total", "Total H₂D⁺"], ["wd2h", "w D₂H⁺"], ["wd3", "w D₃⁺"], ["obs", "Only o-H₂D⁺ + p-D₂H⁺"]];
  lg.forEach((e, i) => {
    const col = Math.floor(i / 3), row = i % 3;
    const lx = cfg.x0 + 4 + col * 97, ly = cfg.legY + row * 13;
    const st = styles[e[0]];
    const ln = mk("line", {x1: lx, x2: lx + 17, y1: ly, y2: ly, stroke: st.stroke, "stroke-width": st.w, "stroke-dasharray": st.dash});
    
    
    const t = mk("text", {x: lx + 24, y: ly + 3.5, "font-size": "9", fill: "#111"});
    t.textContent = e[1];
    
    
  });
}

drawProfileFigure({id: "fig2", x0: 1799, x1: 2024, topY0: 574, midY: 714, botY1: 851, topMax: 14.67, topMin: 13, botMax: -15.73, botMin: -18,
  topTicks: [14, 13], botTicks: [-16, -17, -18], time: "Time: 30.7 [kyr]", legY: 812,
  top: {sim: f2TopSim, onlyO: f2TopOnlyO, total: f2TopTotal, wd2h: f2TopWD2H, wd3: f2TopWD3, obs: f2TopObs},
  bot: {sim: f2BotSim, onlyO: f2BotOnlyO, total: f2BotTotal, wd2h: f2BotWD2H, wd3: f2BotWD3, obs: f2BotObs}});
drawProfileFigure({id: "fig3", x0: 2174, x1: 2398, topY0: 577, midY: 716, botY1: 853, topMax: 15.97, topMin: 14, botMax: -15.73, botMin: -18,
  topTicks: [16, 15, 14], botTicks: [-16, -17, -18], time: "Time: 180.9 [kyr]", legY: 815,
  top: {sim: f3TopSim, onlyO: f3TopOnlyO, total: f3TopTotal, wd2h: f3TopWD2H, wd3: f3TopWD3, obs: f3TopObs},
  bot: {sim: f3BotSim, onlyO: f3BotOnlyO, total: f3BotTotal, wd2h: f3BotWD2H, wd3: f3BotWD3, obs: f3BotObs}});

(function () {
  const x0 = 3514, x1 = 3768, y0 = 148, y1 = 339;
  const sx = linScale(0.01, 0.05, x0, x1);
  const sy = linScale(-15.3, -17, y0, y1);
  const ly = v => sy(Math.log10(v * 1e-17));
  let d = "";
  f4Radius.forEach((x, i) => { d += (i ? "L" : "M") + sx(x).toFixed(1) + "," + ly(f4BandHigh[i]).toFixed(1); });
  for (let i = f4Radius.length - 1; i >= 0; i--) d += "L" + sx(f4Radius[i]).toFixed(1) + "," + ly(f4BandLow[i]).toFixed(1);
  const band = mk("path", {d: d + "Z", fill: "#f8f46a", stroke: "none"});
  
  
  const red = mk("line", {x1: x0, x2: x1, y1: ly(f4Ivlev), y2: ly(f4Ivlev), stroke: "#e02828", "stroke-width": "1.6", "stroke-dasharray": "4,2"});
  
  
  const grn = mk("line", {x1: x0, x2: x1, y1: ly(f4VdTak), y2: ly(f4VdTak), stroke: "#2a8a2a", "stroke-width": "1.4", "stroke-dasharray": "6,2,2,2"});
  
  
  let dl = "";
  f4Radius.forEach((x, i) => { dl += (i ? "L" : "M") + sx(x).toFixed(1) + "," + ly(f4Zeta[i]).toFixed(1); });
  const ln = mk("path", {d: dl, fill: "none", stroke: "#111", "stroke-width": "1.8"});
  
  
  f4Radius.forEach((x, i) => {
    if (i === f4Radius.length - 1) return;
    const px = sx(x);
    const eb = mk("path", {d: "M" + px + "," + ly(f4ErrLow[i]) + "V" + ly(f4ErrHigh[i]) + "M" + (px - 2.5) + "," + ly(f4ErrLow[i]) + "h5M" + (px - 2.5) + "," + ly(f4ErrHigh[i]) + "h5", stroke: "#111", "stroke-width": "1.1", fill: "none"});
    
    
  });
  const fr = mk("rect", {x: x0, y: y0, width: x1 - x0, height: y1 - y0, fill: "none", stroke: "#333", "stroke-width": "1"});
  
  
  xTicks.forEach((v, i) => {
    mk("line", {x1: sx(v), x2: sx(v), y1: y1, y2: y1 - 3, stroke: "#333"});
    const t = mk("text", {x: sx(v), y: y1 + 15, "font-size": "13", "text-anchor": "middle", fill: "#111"});
    t.textContent = xTickLabels[i];
    
    
  });
  [-16, -17].forEach(e => {
    const y = sy(e);
    mk("line", {x1: x0, x2: x0 + 4, y1: y, y2: y, stroke: "#333"});
    const t = mk("text", {x: x0 - 4, y: y + 5, "font-size": "13", "text-anchor": "end", fill: "#111"});
    t.textContent = "10";
    const s = mk("tspan", {dy: "-6", "font-size": "9"}, t);
    s.textContent = "−" + Math.abs(e);
    
    
  });
  const xt = mk("text", {x: (x0 + x1) / 2, y: y1 + 30, "font-size": "13", "text-anchor": "middle", fill: "#111"});
  xt.textContent = "Radius [pc]";
  
  
  const yt = mk("text", {transform: "translate(3468," + sy(-16.25) + ") rotate(-90)", "font-size": "13", "text-anchor": "middle", fill: "#111"});
  yt.textContent = "ζ₂ [s⁻¹]";
  
  
  const leg = [["#111", "", "L1544 Eq. 3, only o-H₂D⁺"], ["#e02828", "4,2", "L1544 Ivlev+2019"], ["#2a8a2a", "6,2,2,2", "van der Tak & van Dishoeck 2002"], ["#f8f46a", "band", "different L"]];
  leg.forEach((e, i) => {
    const yy = 161 + i * 12.5;
    if (e[1] === "band") {
      const r = mk("rect", {x: 3592, y: yy - 4, width: 17, height: 8, fill: e[0]});
      
      
    } else {
      const l = mk("line", {x1: 3592, x2: 3609, y1: yy, y2: yy, stroke: e[0], "stroke-width": "1.6", "stroke-dasharray": e[1]});
      
      
    }
    const t = mk("text", {x: 3616, y: yy + 3.5, "font-size": "9.5", fill: "#111"});
    t.textContent = e[2];
    
    
  });
})();

(function () {
  const body = document.getElementById("table1");
  t1Groups.forEach((g, gi) => {
    const h = document.createElement("div");
    h.className = "row";
    h.style.left = "2986px"; h.style.top = t1GroupTops[gi] + "px";
    h.innerHTML = "<span style='left:0'><b>" + g.split(/[:,]/)[0] + "</b>" + g.slice(g.split(/[:,]/)[0].length) + "</span>";
    
    
    body.appendChild(h);
    for (let r = 0; r < 5; r++) {
      const row = document.createElement("div");
      row.className = "row";
      row.style.left = "2978px"; row.style.top = (t1GroupTops[gi] + 14.4 * (r + 1)) + "px"; row.style.width = "352px";
      row.innerHTML = "<span style='left:21px'>(" + (r + 1) + ")</span><span style='left:66px'>" + t1Zeta[gi][r] + "</span><span style='left:154px'>" + t1Sig[gi][r] + "</span><span style='left:243px'>" + t1Alpha[gi][r] + "</span><span style='left:302px'>" + t1SigA[gi][r] + "</span>";
      
      
      body.appendChild(row);
    }
  });
  const t2 = document.getElementById("table2");
  const mkRow = (top, label, vals, name) => {
    const row = document.createElement("div");
    row.className = "row";
    row.style.left = "3484px"; row.style.top = top + "px"; row.style.width = "287px";
    let html = "<span style='left:10px'>" + label + "</span>";
    vals.forEach((v, i) => { html += "<span style='left:" + (40 + i * 49) + "px'>" + v + "</span>"; });
    row.innerHTML = html;
    
    
    t2.appendChild(row);
  };
  mkRow(598, "", t2Cols.map(c => "&nbsp;" + c), "table-2-header");
  mkRow(620, "ᾱ", t2Alpha, "table-2-alpha-row");
  mkRow(634, "σ<sub>ᾱ</sub>", t2Sigma, "table-2-sigma-row");
})();
</script>
</body></html>
